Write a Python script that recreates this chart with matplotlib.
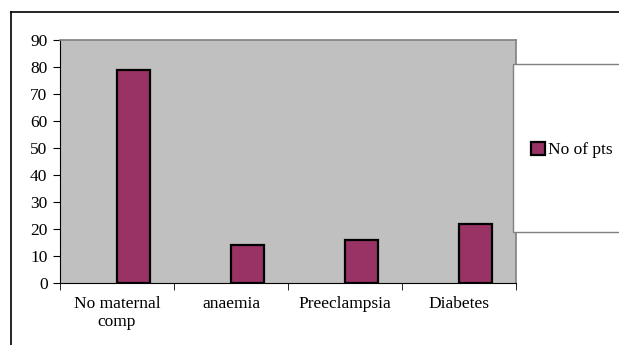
import matplotlib.pyplot as plt
from matplotlib.patches import Rectangle
from matplotlib.lines import Line2D

categories = ["No maternal\ncomp", "anaemia", "Preeclampsia", "Diabetes"]
values = [79, 14, 16, 22]
series_name = "No of pts"
yticks = [0, 10, 20, 30, 40, 50, 60, 70, 80, 90]

plt.rcParams["font.family"] = ["Liberation Serif", "DejaVu Serif"]
plt.rcParams["font.size"] = 12.5

W, H = 619, 345
fig = plt.figure(figsize=(W / 100, H / 100), dpi=100)

# outer chart border (right and bottom cut off in the original)
fig.add_artist(Line2D([11 / W, 1], [1 - 12 / H, 1 - 12 / H], color="black", lw=1.2))
fig.add_artist(Line2D([11 / W, 11 / W], [0, 1 - 12 / H], color="black", lw=1.2))

ax = fig.add_axes([60 / W, 1 - 283 / H, 456 / W, 243 / H])
ax.set_facecolor("#c0c0c0")
x = list(range(len(categories)))
# bars sit just right of the category centre, like the original
ax.bar(x, values, width=0.29, align="edge", color="#993366", edgecolor="black",
       linewidth=1.6, label=series_name, zorder=3)
ax.set_xlim(-0.5, len(categories) - 0.5)
ax.set_ylim(0, 90)
ax.set_yticks(yticks)
ax.set_xticks(x)
ax.set_xticklabels(categories, linespacing=1.25)
ax.set_xticks([i + 0.5 for i in range(-1, len(categories))], minor=True)
ax.tick_params(axis="x", which="major", length=0, pad=9)
ax.tick_params(axis="x", which="minor", length=5, color="black", direction="out")
ax.tick_params(axis="y", length=5, color="black", direction="out", pad=4)
for s in ["top", "right"]:
    ax.spines[s].set_color("#808080")
    ax.spines[s].set_linewidth(1.2)
ax.spines["left"].set_color("black")
ax.spines["bottom"].set_color("black")

# legend box
fig.add_artist(Rectangle((513 / W, 1 - 232 / H), (W - 513) / W + 0.01, 168 / H,
                         transform=fig.transFigure, facecolor="white",
                         edgecolor="#808080", lw=1.0))
handles, labels = ax.get_legend_handles_labels()
fig.legend(handles, labels, loc="center left", bbox_to_anchor=(531 / W, 1 - 150 / H),
           frameon=False, handlelength=0.8, handleheight=0.8, handletextpad=0.2,
           borderaxespad=0, borderpad=0, fontsize=12.5)

fig.savefig("out.png", dpi=100)
